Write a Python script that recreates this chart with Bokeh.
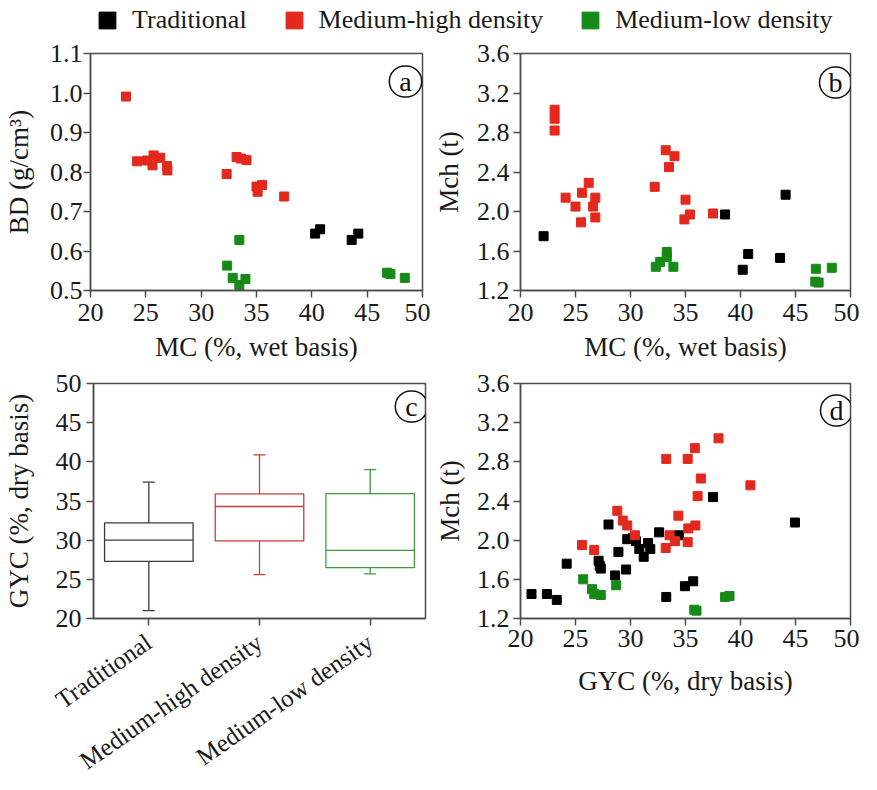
from bokeh.plotting import figure
from bokeh.layouts import column, row
from bokeh.models import (FixedTicker, NumeralTickFormatter, Range1d, FactorRange,
                          Legend, LegendItem, Label, ColumnDataSource)
from bokeh.transform import dodge
from bokeh.embed import file_html
from bokeh.resources import INLINE

FONT = "Liberation Serif"
BLACK = "#000000"
RED = "#e3281d"
GREEN = "#168a16"
AXC = "#4d4d4d"

series_names = ["Traditional", "Medium-high density", "Medium-low density"]

# ---- Panel a: MC (%, wet basis) vs BD (g/cm3)
a_trad_mc = [40.3, 40.75, 43.6, 44.2]
a_trad_bd = [0.644, 0.655, 0.628, 0.644]
a_mhd_mc = [23.2, 24.2, 25.1, 25.7, 25.6, 26.3, 26.9, 26.95, 32.3, 33.2, 33.6, 34.1, 35.0, 35.5, 35.1, 37.5]
a_mhd_bd = [0.991, 0.827, 0.829, 0.842, 0.817, 0.836, 0.815, 0.804, 0.795, 0.838, 0.834, 0.830, 0.763, 0.767, 0.750, 0.738]
a_mld_mc = [33.45, 32.35, 32.85, 33.45, 34.0, 46.8, 47.1, 48.4]
a_mld_bd = [0.628, 0.563, 0.532, 0.514, 0.529, 0.545, 0.542, 0.532]

# ---- Panel b: MC (%, wet basis) vs Mch (t)
b_trad_mc = [22.1, 38.6, 40.7, 40.2, 43.6, 44.1]
b_trad_mch = [1.75, 1.97, 1.57, 1.41, 1.53, 2.17]
b_mhd_mc = [23.1, 23.1, 23.1, 24.1, 25.0, 25.6, 26.2, 25.5, 26.8, 26.6, 26.8, 32.2, 33.2, 34.0, 33.5, 35.0, 35.4, 34.9, 37.5]
b_mhd_mch = [3.03, 2.94, 2.82, 2.14, 2.05, 2.19, 2.29, 1.89, 2.14, 2.05, 1.94, 2.25, 2.62, 2.56, 2.45, 2.12, 1.97, 1.92, 1.98]
b_mld_mc = [32.3, 32.7, 33.3, 33.3, 33.9, 46.85, 46.8, 47.1, 48.3]
b_mld_mch = [1.44, 1.49, 1.59, 1.54, 1.44, 1.42, 1.29, 1.28, 1.43]

# ---- Panel c: GYC (%, dry basis) box statistics
box_low = [21.0, 25.6, 25.7]
box_q1 = [27.3, 29.9, 26.5]
box_med = [30.0, 34.3, 28.7]
box_q3 = [32.2, 35.9, 35.95]
box_high = [37.4, 40.9, 39.0]
box_colors = ["#3a3a3a", "#cf3b3b", "#3f9b3f"]

# ---- Panel d: GYC (%, dry basis) vs Mch (t)
d_trad_gyc = [21.0, 22.4, 23.3, 24.2, 27.1, 27.2, 27.3, 28.0, 28.9, 28.6, 29.6, 29.7, 30.2, 30.5,
              30.8, 31.2, 31.6, 31.8, 32.6, 33.25, 34.4, 34.95, 35.7, 37.5, 44.95]
d_trad_mch = [1.45, 1.45, 1.39, 1.76, 1.79, 1.74, 1.71, 2.16, 1.88, 1.64, 1.70, 2.01, 2.02, 1.99,
              1.91, 1.83, 1.97, 1.91, 2.08, 1.42, 2.05, 1.53, 1.58, 2.44, 2.18]
d_mhd_gyc = [25.6, 26.7, 28.8, 29.3, 29.7, 30.4, 33.25, 33.2, 33.55, 34.05, 34.35, 35.2, 35.85,
             35.2, 35.25, 35.9, 36.1, 36.4, 38.0, 40.9]
d_mhd_mch = [1.95, 1.90, 2.30, 2.20, 2.15, 2.05, 2.83, 1.92, 2.05, 1.99, 2.25, 2.83, 2.94,
             1.98, 2.12, 2.15, 2.45, 2.63, 3.04, 2.56]
d_mld_gyc = [25.7, 26.5, 26.7, 27.3, 28.7, 38.6, 39.0, 35.8, 36.0]
d_mld_mch = [1.60, 1.50, 1.45, 1.44, 1.54, 1.42, 1.43, 1.29, 1.28]

x_ticks = [20, 25, 30, 35, 40, 45, 50]
bd_ticks = [0.5, 0.6, 0.7, 0.8, 0.9, 1.0, 1.1]
mch_ticks = [1.2, 1.6, 2.0, 2.4, 2.8, 3.2, 3.6]
gyc_ticks = [20, 25, 30, 35, 40, 45, 50]


def style(p, xlabel, ylabel, ylab_standoff, ytick_standoff, xtick_standoff, xlab_standoff):
    p.outline_line_color = AXC
    p.outline_line_width = 1.5
    p.xgrid.visible = False
    p.ygrid.visible = False
    for ax in (p.xaxis[0], p.yaxis[0]):
        ax.axis_line_color = AXC
        ax.axis_line_width = 1.5
        ax.major_tick_line_color = AXC
        ax.major_tick_line_width = 1.5
        ax.major_tick_in = 0
        ax.major_tick_out = 7
        ax.minor_tick_line_color = None
        ax.major_label_text_font = FONT
        ax.major_label_text_font_size = "26px"
        ax.major_label_text_color = "#1a1a1a"
        ax.axis_label_text_font = FONT
        ax.axis_label_text_font_size = "27px"
        ax.axis_label_text_font_style = "normal"
        ax.axis_label_text_color = "#1a1a1a"
    p.xaxis[0].axis_label = xlabel
    p.yaxis[0].axis_label = ylabel
    p.xaxis[0].major_label_standoff = xtick_standoff
    p.xaxis[0].axis_label_standoff = xlab_standoff
    p.yaxis[0].major_label_standoff = ytick_standoff
    p.yaxis[0].axis_label_standoff = ylab_standoff


def badge(p, letter, frame_w, frame_h, dx, dy):
    w = {"a": 12, "b": 14, "c": 12, "d": 14}[letter]
    ph = max(0, (32 - w) // 2)
    lab = Label(x=frame_w - dx, y=frame_h - dy, x_units="screen", y_units="screen",
                text=letter, text_align="center", text_baseline="middle",
                text_font=FONT, text_font_size="28px", text_color="#111111",
                border_line_color="#111111", border_line_width=1.5, border_radius=17,
                padding=dict(left=ph, right=ph, top=0, bottom=0))
    p.add_layout(lab)


def scatter_fig(width, height, bl, br, bt, bb, yr, yticks, yfmt, xlabel, ylabel,
                data, letter, frame_w, frame_h, dx, dy, ylab_standoff, ytick_standoff,
                xtick_standoff, xlab_standoff):
    p = figure(width=width, height=height, x_range=Range1d(20, 50), y_range=Range1d(*yr),
               min_border_left=bl, min_border_right=br, min_border_top=bt, min_border_bottom=bb,
               output_backend="svg", toolbar_location=None, tools="")
    style(p, xlabel, ylabel, ylab_standoff, ytick_standoff, xtick_standoff, xlab_standoff)
    p.xaxis[0].ticker = FixedTicker(ticks=x_ticks)
    p.yaxis[0].ticker = FixedTicker(ticks=yticks)
    p.yaxis[0].formatter = NumeralTickFormatter(format=yfmt)
    for (xs, ys, col) in data:
        p.scatter(x=xs, y=ys, marker="square", size=9, fill_color=col, line_color=col)
    badge(p, letter, frame_w, frame_h, dx, dy)
    return p


FH = 237
ROW1_H = 15 + FH + 78
ROW2_H = 15 + FH + 168

pa = scatter_fig(430, ROW1_H, 85, 8, 15, 78, (0.5, 1.1), bd_ticks, "0.0",
                 "MC (%, wet basis)", "BD (g/cm³)",
                 [(a_trad_mc, a_trad_bd, BLACK), (a_mhd_mc, a_mhd_bd, RED), (a_mld_mc, a_mld_bd, GREEN)],
                 "a", 337, FH, 22, 28, 13, 1, 6, 8)
pb = scatter_fig(429, ROW1_H, 85, 9, 15, 78, (1.2, 3.6), mch_ticks, "0.0",
                 "MC (%, wet basis)", "Mch (t)",
                 [(b_trad_mc, b_trad_mch, BLACK), (b_mhd_mc, b_mhd_mch, RED), (b_mld_mc, b_mld_mch, GREEN)],
                 "b", 335, FH, 20, 29, 10, 4, 6, 8)
pd_ = scatter_fig(428, ROW2_H, 84, 9, 15, 168, (1.2, 3.6), mch_ticks, "0.0",
                  "GYC (%, dry basis)", "Mch (t)",
                  [(d_trad_gyc, d_trad_mch, BLACK), (d_mhd_gyc, d_mhd_mch, RED), (d_mld_gyc, d_mld_mch, GREEN)],
                  "d", 335, FH, 19, 29, 9, 4, 4, 16)

# ---- Panel c: box plot
pc = figure(width=431, height=ROW2_H, x_range=FactorRange(factors=series_names),
            y_range=Range1d(20, 50), min_border_left=89, min_border_right=6,
            min_border_top=15, min_border_bottom=168,
            output_backend="svg", toolbar_location=None, tools="")
style(pc, "", "GYC (%, dry basis)", 19, 5, 14, 0)
pc.xaxis[0].axis_label = None
pc.xaxis[0].major_label_text_font_size = "25px"
pc.yaxis[0].ticker = FixedTicker(ticks=gyc_ticks)
pc.yaxis[0].formatter = NumeralTickFormatter(format="0")
pc.xaxis[0].major_label_orientation = 0.61

src = ColumnDataSource(dict(grp=series_names, low=box_low, q1=box_q1, med=box_med,
                            q3=box_q3, high=box_high, col=box_colors))
pc.vbar(x="grp", bottom="q1", top="q3", width=0.8, fill_color=None, line_color="col",
        line_width=1.3, source=src)
pc.segment(x0=dodge("grp", -0.4, range=pc.x_range), x1=dodge("grp", 0.4, range=pc.x_range),
           y0="med", y1="med", line_color="col", line_width=1.3, source=src)
pc.segment(x0="grp", x1="grp", y0="q3", y1="high", line_color="col", line_width=1.3, source=src)
pc.segment(x0="grp", x1="grp", y0="low", y1="q1", line_color="col", line_width=1.3, source=src)
for fld in ("high", "low"):
    pc.segment(x0=dodge("grp", -0.054, range=pc.x_range), x1=dodge("grp", 0.054, range=pc.x_range),
               y0=fld, y1=fld, line_color="col", line_width=1.3, source=src)
badge(pc, "c", 336, FH, 18, 25)

# ---- Legend strip (series drawn outside its own view range; only the legend shows)
lg = figure(width=859, height=38, min_border=0, x_axis_type=None, y_axis_type=None,
            x_range=Range1d(0, 1), y_range=Range1d(0, 1),
            output_backend="svg", toolbar_location=None, tools="")
lg.outline_line_color = None
lg.xgrid.visible = False
lg.ygrid.visible = False
rends = []
for xs, ys, col in ((a_trad_mc, a_trad_bd, BLACK), (a_mhd_mc, a_mhd_bd, RED), (a_mld_mc, a_mld_bd, GREEN)):
    rends.append(lg.scatter(x=xs, y=ys, marker="square", size=17, fill_color=col, line_color=col))
leg = Legend(items=[LegendItem(label=n, renderers=[r], index=0) for n, r in zip(series_names, rends)],
             orientation="horizontal", location=(86, -3), glyph_width=42, glyph_height=42,
             label_standoff=4, spacing=26, padding=0, margin=0, border_line_color=None,
             background_fill_alpha=0, label_text_font=FONT, label_text_font_size="26px",
             label_text_color="#1a1a1a")
lg.add_layout(leg)

layout = column(lg, row(pa, pb), row(pc, pd_))
open("out.html", "w").write(file_html(layout, INLINE))
